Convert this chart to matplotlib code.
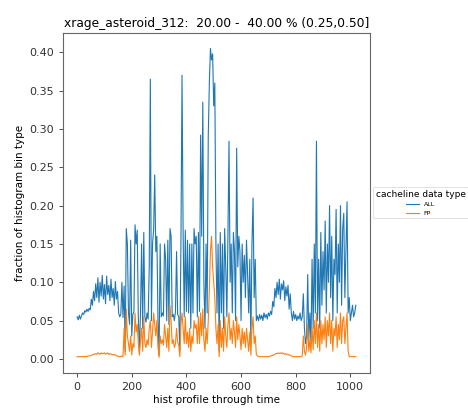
import numpy as np
import matplotlib
matplotlib.use("Agg")
import matplotlib.pyplot as plt

# samples, one every 4 time steps
step = 4
all_vals = [
    0.055, 0.051, 0.057, 0.052, 0.056, 0.060, 0.058, 0.063,
    0.061, 0.065, 0.062, 0.066, 0.064, 0.078, 0.070, 0.088,
    0.076, 0.098, 0.080, 0.106, 0.074, 0.100, 0.082, 0.109,
    0.078, 0.097, 0.072, 0.108, 0.084, 0.096, 0.076, 0.104,
    0.080, 0.092, 0.070, 0.101, 0.078, 0.088, 0.060, 0.055,
    0.058, 0.100, 0.054, 0.095, 0.010, 0.170, 0.150, 0.060,
    0.045, 0.155, 0.030, 0.058, 0.062, 0.175, 0.150, 0.168,
    0.055, 0.010, 0.060, 0.150, 0.040, 0.165, 0.055, 0.048,
    0.060, 0.052, 0.120, 0.365, 0.050, 0.150, 0.168, 0.240,
    0.140, 0.160, 0.050, 0.005, 0.150, 0.055, 0.060, 0.056,
    0.150, 0.130, 0.050, 0.155, 0.045, 0.170, 0.160, 0.055,
    0.058, 0.050, 0.062, 0.140, 0.058, 0.055, 0.010, 0.150,
    0.370, 0.165, 0.055, 0.168, 0.062, 0.155, 0.060, 0.150,
    0.040, 0.150, 0.060, 0.170, 0.150, 0.160, 0.055, 0.165,
    0.062, 0.292, 0.160, 0.335, 0.100, 0.040, 0.150, 0.060,
    0.290, 0.360, 0.405, 0.390, 0.398, 0.330, 0.360, 0.150,
    0.060, 0.150, 0.010, 0.165, 0.060, 0.150, 0.040, 0.170,
    0.120, 0.055, 0.160, 0.284, 0.100, 0.150, 0.060, 0.165,
    0.140, 0.050, 0.275, 0.120, 0.160, 0.140, 0.050, 0.150,
    0.100, 0.135, 0.080, 0.155, 0.110, 0.060, 0.130, 0.020,
    0.150, 0.210, 0.080, 0.130, 0.050, 0.056, 0.050, 0.058,
    0.052, 0.057, 0.050, 0.060, 0.054, 0.058, 0.052, 0.060,
    0.056, 0.062, 0.058, 0.075, 0.068, 0.092, 0.080, 0.100,
    0.084, 0.104, 0.078, 0.098, 0.090, 0.102, 0.076, 0.094,
    0.082, 0.096, 0.065, 0.085, 0.060, 0.050, 0.062, 0.052,
    0.058, 0.050, 0.056, 0.052, 0.060, 0.050, 0.055, 0.085,
    0.040, 0.020, 0.030, 0.110, 0.025, 0.060, 0.020, 0.130,
    0.040, 0.150, 0.060, 0.284, 0.050, 0.130, 0.040, 0.165,
    0.070, 0.140, 0.090, 0.180, 0.060, 0.150, 0.100, 0.200,
    0.080, 0.160, 0.050, 0.130, 0.110, 0.195, 0.060, 0.150,
    0.100, 0.200, 0.070, 0.170, 0.190, 0.080, 0.140, 0.205,
    0.060, 0.080, 0.050, 0.060, 0.070, 0.055, 0.060, 0.070,
]
fp_vals = [
    0.003, 0.003, 0.003, 0.003, 0.003, 0.003, 0.003, 0.003,
    0.003, 0.003, 0.004, 0.004, 0.004, 0.005, 0.005, 0.006,
    0.006, 0.007, 0.006, 0.008, 0.007, 0.006, 0.008, 0.007,
    0.007, 0.008, 0.006, 0.007, 0.008, 0.006, 0.007, 0.006,
    0.006, 0.005, 0.006, 0.005, 0.004, 0.004, 0.003, 0.003,
    0.003, 0.004, 0.003, 0.040, 0.005, 0.065, 0.030, 0.020,
    0.010, 0.030, 0.005, 0.020, 0.015, 0.060, 0.035, 0.045,
    0.020, 0.005, 0.025, 0.040, 0.010, 0.055, 0.020, 0.015,
    0.025, 0.018, 0.040, 0.050, 0.015, 0.035, 0.060, 0.045,
    0.030, 0.050, 0.015, 0.002, 0.030, 0.020, 0.025, 0.018,
    0.045, 0.030, 0.015, 0.040, 0.010, 0.070, 0.050, 0.020,
    0.025, 0.015, 0.020, 0.040, 0.022, 0.018, 0.003, 0.045,
    0.060, 0.040, 0.020, 0.055, 0.020, 0.035, 0.015, 0.040,
    0.010, 0.030, 0.020, 0.050, 0.040, 0.045, 0.020, 0.055,
    0.020, 0.060, 0.030, 0.065, 0.025, 0.010, 0.040, 0.020,
    0.050, 0.090, 0.140, 0.160, 0.120, 0.100, 0.080, 0.040,
    0.020, 0.045, 0.003, 0.050, 0.015, 0.040, 0.010, 0.055,
    0.030, 0.015, 0.045, 0.060, 0.025, 0.040, 0.020, 0.050,
    0.035, 0.015, 0.055, 0.025, 0.045, 0.030, 0.012, 0.040,
    0.020, 0.035, 0.015, 0.040, 0.025, 0.010, 0.035, 0.005,
    0.040, 0.055, 0.020, 0.030, 0.006, 0.004, 0.003, 0.003,
    0.003, 0.003, 0.003, 0.003, 0.003, 0.003, 0.003, 0.003,
    0.003, 0.004, 0.004, 0.005, 0.005, 0.006, 0.007, 0.007,
    0.008, 0.007, 0.008, 0.007, 0.008, 0.007, 0.006, 0.007,
    0.006, 0.006, 0.005, 0.005, 0.004, 0.003, 0.003, 0.003,
    0.003, 0.003, 0.003, 0.003, 0.003, 0.003, 0.004, 0.030,
    0.010, 0.005, 0.015, 0.045, 0.010, 0.025, 0.008, 0.040,
    0.012, 0.050, 0.020, 0.060, 0.015, 0.045, 0.010, 0.050,
    0.020, 0.045, 0.025, 0.055, 0.015, 0.050, 0.030, 0.060,
    0.020, 0.050, 0.010, 0.040, 0.030, 0.055, 0.015, 0.045,
    0.025, 0.060, 0.020, 0.050, 0.055, 0.020, 0.040, 0.060,
    0.010, 0.003, 0.003, 0.003, 0.003, 0.003, 0.003, 0.003,
]
series_names = ["ALL", "FP"]
title = "xrage_asteroid_312:  20.00 -  40.00 % (0.25,0.50]"

x = np.arange(len(all_vals)) * step

fig = plt.figure(figsize=(4.68, 4.18), dpi=100)
ax = fig.add_axes([0.135, 0.108, 0.655, 0.813])

ax.plot(x, all_vals, color="#1f77b4", lw=0.8, label=series_names[0])
ax.plot(x, fp_vals, color="#ff7f0e", lw=0.8, label=series_names[1])

ax.set_yticks(np.arange(0, 0.41, 0.05))
ax.set_xticks([0, 200, 400, 600, 800, 1000])
ax.tick_params(labelsize=8, width=0.6, length=3, colors="#333333")
for s in ax.spines.values():
    s.set_color("#666666")
    s.set_linewidth(0.8)

ax.set_title(title, fontsize=8.8, pad=4)
ax.set_xlabel("hist profile through time", fontsize=7.5, labelpad=2)
ax.set_ylabel("fraction of histogram bin type", fontsize=7.5, labelpad=3)

leg = ax.legend(title="cacheline data type", loc="center left",
                bbox_to_anchor=(1.005, 0.5), fontsize=4.5,
                title_fontsize=6.5, frameon=True, borderaxespad=0.3)
leg.get_frame().set_linewidth(0.5)

fig.savefig("out.png", dpi=100)
